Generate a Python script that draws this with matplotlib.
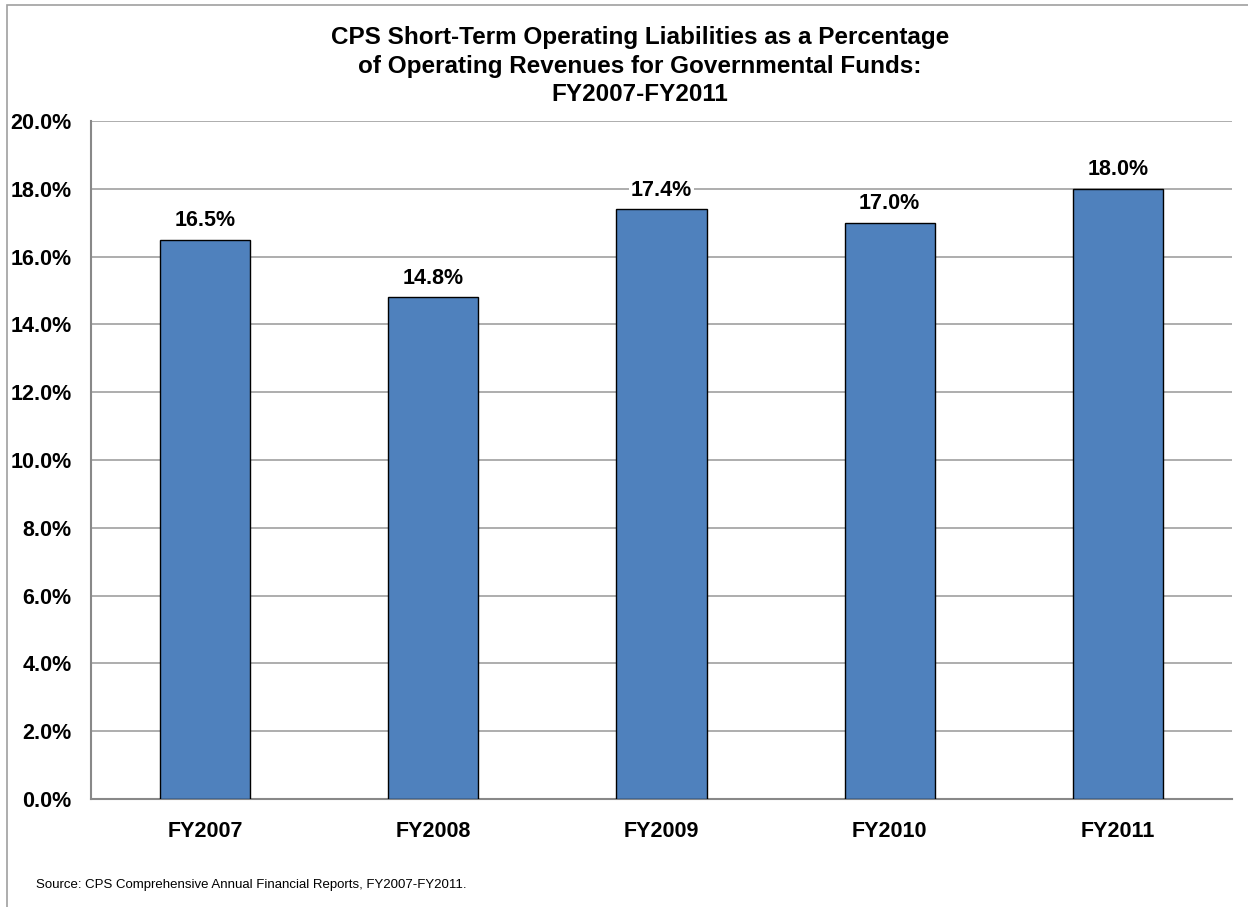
import matplotlib
matplotlib.use('Agg')
import matplotlib.pyplot as plt
from matplotlib.patches import Rectangle
import numpy as np

years = ['FY2007', 'FY2008', 'FY2009', 'FY2010', 'FY2011']
ratios = [16.5, 14.8, 17.4, 17.0, 18.0]

plt.rcParams['font.family'] = ['Liberation Sans', 'DejaVu Sans']

W, H = 1248, 907
fig = plt.figure(figsize=(W / 100, H / 100), dpi=100)
ax = fig.add_axes([91 / W, 1 - 799 / H, (1232 - 91) / W, (799 - 121) / H])

x = np.arange(len(years))
ax.bar(x, ratios, width=0.395, color='#4f81bd', edgecolor='black', linewidth=1.0, zorder=3)

for xi, v in zip(x, ratios):
    ax.text(xi, v + 0.25, f'{v:.1f}%', ha='center', va='bottom', fontsize=15.5, fontweight='bold',
            bbox=dict(facecolor='white', edgecolor='none', pad=1.5), zorder=4)

ax.set_xlim(-0.5, len(years) - 0.5)
ax.set_ylim(0, 20)
ax.set_yticks(np.arange(0, 20.1, 2))
ax.set_yticklabels([f'{t:.1f}%' for t in np.arange(0, 20.1, 2)])
ax.set_xticks(x)
ax.set_xticklabels(years)
ax.yaxis.grid(True, color='#a0a0a0', linewidth=1.2, zorder=0)
ax.set_axisbelow(True)
for s in ['top', 'right']:
    ax.spines[s].set_visible(False)
for s in ['left', 'bottom']:
    ax.spines[s].set_color('#888888')
    ax.spines[s].set_linewidth(1.5)
ax.tick_params(axis='both', length=0, labelsize=15.5)
ax.tick_params(axis='x', pad=16)
ax.tick_params(axis='y', pad=14)
for lab in ax.get_xticklabels() + ax.get_yticklabels():
    lab.set_fontweight('bold')

fig.text(640 / W, 1 - 66 / H,
         'CPS Short-Term Operating Liabilities as a Percentage\nof Operating Revenues for Governmental Funds:\nFY2007-FY2011',
         ha='center', va='center', fontsize=17.5, fontweight='bold', linespacing=1.32)
fig.text(36 / W, 1 - 885 / H, 'Source: CPS Comprehensive Annual Financial Reports, FY2007-FY2011.',
         ha='left', va='center', fontsize=9.5)

fig.patches.append(Rectangle((7 / W, -0.01), 1.02, 1 - 5 / H + 0.01, transform=fig.transFigure,
                             fill=False, edgecolor='#a0a0a0', linewidth=1.2))

fig.savefig('out.png', dpi=100)
